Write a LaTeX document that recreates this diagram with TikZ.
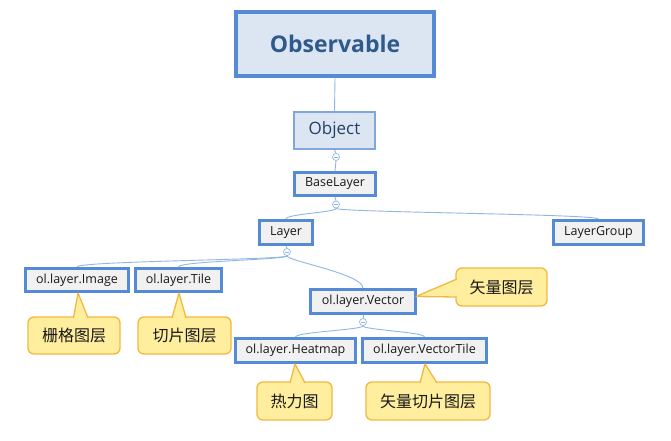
\documentclass[tikz,border=0pt]{standalone}
\usepackage{fontspec}
\setmainfont{Open Sans}
\newfontfamily\cjk{Noto Sans CJK SC}
\usetikzlibrary{calc}
\definecolor{bordblue}{HTML}{558BD4}
\definecolor{objblue}{HTML}{7FA7DE}
\definecolor{fillblue}{HTML}{DCE6F2}
\definecolor{fillgray}{HTML}{F1F1F1}
\definecolor{linkblue}{HTML}{92B6E4}
\definecolor{titleblue}{HTML}{2E5A8E}
\definecolor{objtext}{HTML}{243F66}
\definecolor{calfill}{HTML}{FFEE9E}
\definecolor{caldraw}{HTML}{F3B842}
\begin{document}
\begin{tikzpicture}[x=1pt,y=-1pt,
  cls/.style={draw=bordblue, line width=3pt, fill=fillgray, inner sep=0pt,
    font=\fontsize{12.5}{14}\selectfont, text=black!90},
  callbox/.style={draw=caldraw, line width=1.3pt, fill=calfill, rounded corners=6pt,
    inner sep=0pt, font=\cjk\fontsize{16}{18}\selectfont, text=black!90},
  ptr/.style={draw=caldraw, line width=1.3pt, fill=calfill, line join=round},
  link/.style={draw=linkblue, line width=0.9pt},
  knob/.style={circle, draw=linkblue, fill=white, line width=0.7pt, minimum size=7pt,
    inner sep=0pt, path picture={\draw[linkblue, line width=0.6pt]
      ([xshift=-2pt]path picture bounding box.center) --
      ([xshift=2pt]path picture bounding box.center);}}
]
\useasboundingbox (0,0) rectangle (671,441);
\fill[white] (0,0) rectangle (671,441);

% class nodes
\node[cls, line width=4.5pt, fill=fillblue, minimum width=198, minimum height=64,
  font=\bfseries\fontsize{23}{26}\selectfont, text=titleblue] (obs) at (335,44) {Observable};
\node[cls, draw=objblue, line width=2pt, fill=fillblue, minimum width=81, minimum height=37,
  font=\fontsize{17}{20}\selectfont, text=objtext] (obj) at (334.5,130.5) {Object};
\node[cls, minimum width=81, minimum height=23] (base) at (335,184) {BaseLayer};
\node[cls, minimum width=53, minimum height=24] (layer) at (286,232.5) {Layer};
\node[cls, minimum width=90, minimum height=24] (group) at (598.5,232.5) {LayerGroup};
\node[cls, minimum width=103, minimum height=23] (img) at (77,280) {ol.layer.Image};
\node[cls, minimum width=86, minimum height=23] (tile) at (178.5,280) {ol.layer.Tile};
\node[cls, minimum width=105, minimum height=24] (vec) at (363,301.5) {ol.layer.Vector};
\node[cls, minimum width=120, minimum height=24] (heat) at (295.5,350.5) {ol.layer.Heatmap};
\node[cls, minimum width=124, minimum height=24] (vtile) at (424.5,350.5) {ol.layer.VectorTile};

% collapse knobs
\node[knob] (k1) at (336,157) {};
\node[knob] (k2) at (336,204.5) {};
\node[knob] (k3) at (287,252) {};
\node[knob] (k4) at (363,322) {};

% links
\draw[link] (obs.south) -- (obj.north);
\draw[link] (obj.south) -- (k1.north);
\draw[link] (k1.south) -- (base.north);
\draw[link] (base.south) -- (k2.north);
\draw[link] (k2.south) .. controls +(0,4) and +(0,-5) .. (layer.north);
\draw[link] (k2.south) .. controls +(0,4) and +(0,-5) .. (group.north);
\draw[link] (layer.south) -- (k3.north);
\draw[link] (k3.south) .. controls +(0,4) and +(0,-6) .. (img.north);
\draw[link] (k3.south) .. controls +(0,4) and +(0,-6) .. (tile.north);
\draw[link] (k3.south) .. controls +(0,5) and +(0,-14) .. (vec.north);
\draw[link] (vec.south) -- (k4.north);
\draw[link] (k4.south) .. controls +(0,4) and +(0,-5) .. (heat.north);
\draw[link] (k4.south) .. controls +(0,4) and +(0,-5) .. (vtile.north);

% callouts
\node[callbox, minimum width=92, minimum height=37] (c1) at (74,335.5) {栅格图层};
\path[ptr] ($(c1.north)+(-0.5,1.6)$) -- ($(img.south)+(1,0)$) -- ($(c1.north)+(14,1.6)$);
\node[callbox, minimum width=93, minimum height=37] (c2) at (184.5,335.5) {切片图层};
\path[ptr] ($(c2.north)+(-12.5,1.6)$) -- ($(tile.south)+(0.5,0)$) -- ($(c2.north)+(1.5,1.6)$);
\node[callbox, minimum width=91, minimum height=38] (c3) at (501.5,287) {矢量图层};
\path[ptr] ($(c3.west)+(1.6,-8)$) -- ($(vec.east)+(-1,-5)$) -- ($(c3.west)+(1.6,10)$);
\node[callbox, minimum width=75, minimum height=38] (c4) at (294.5,401) {热力图};
\path[ptr] ($(c4.north)+(-4.5,1.6)$) -- ($(heat.south)+(-0.5,0)$) -- ($(c4.north)+(10.5,1.6)$);
\node[callbox, minimum width=124, minimum height=38] (c5) at (428,401) {矢量切片图层};
\path[ptr] ($(c5.north)+(-8,1.6)$) -- ($(vtile.south)+(0.5,0)$) -- ($(c5.north)+(9,1.6)$);
\end{tikzpicture}
\end{document}
